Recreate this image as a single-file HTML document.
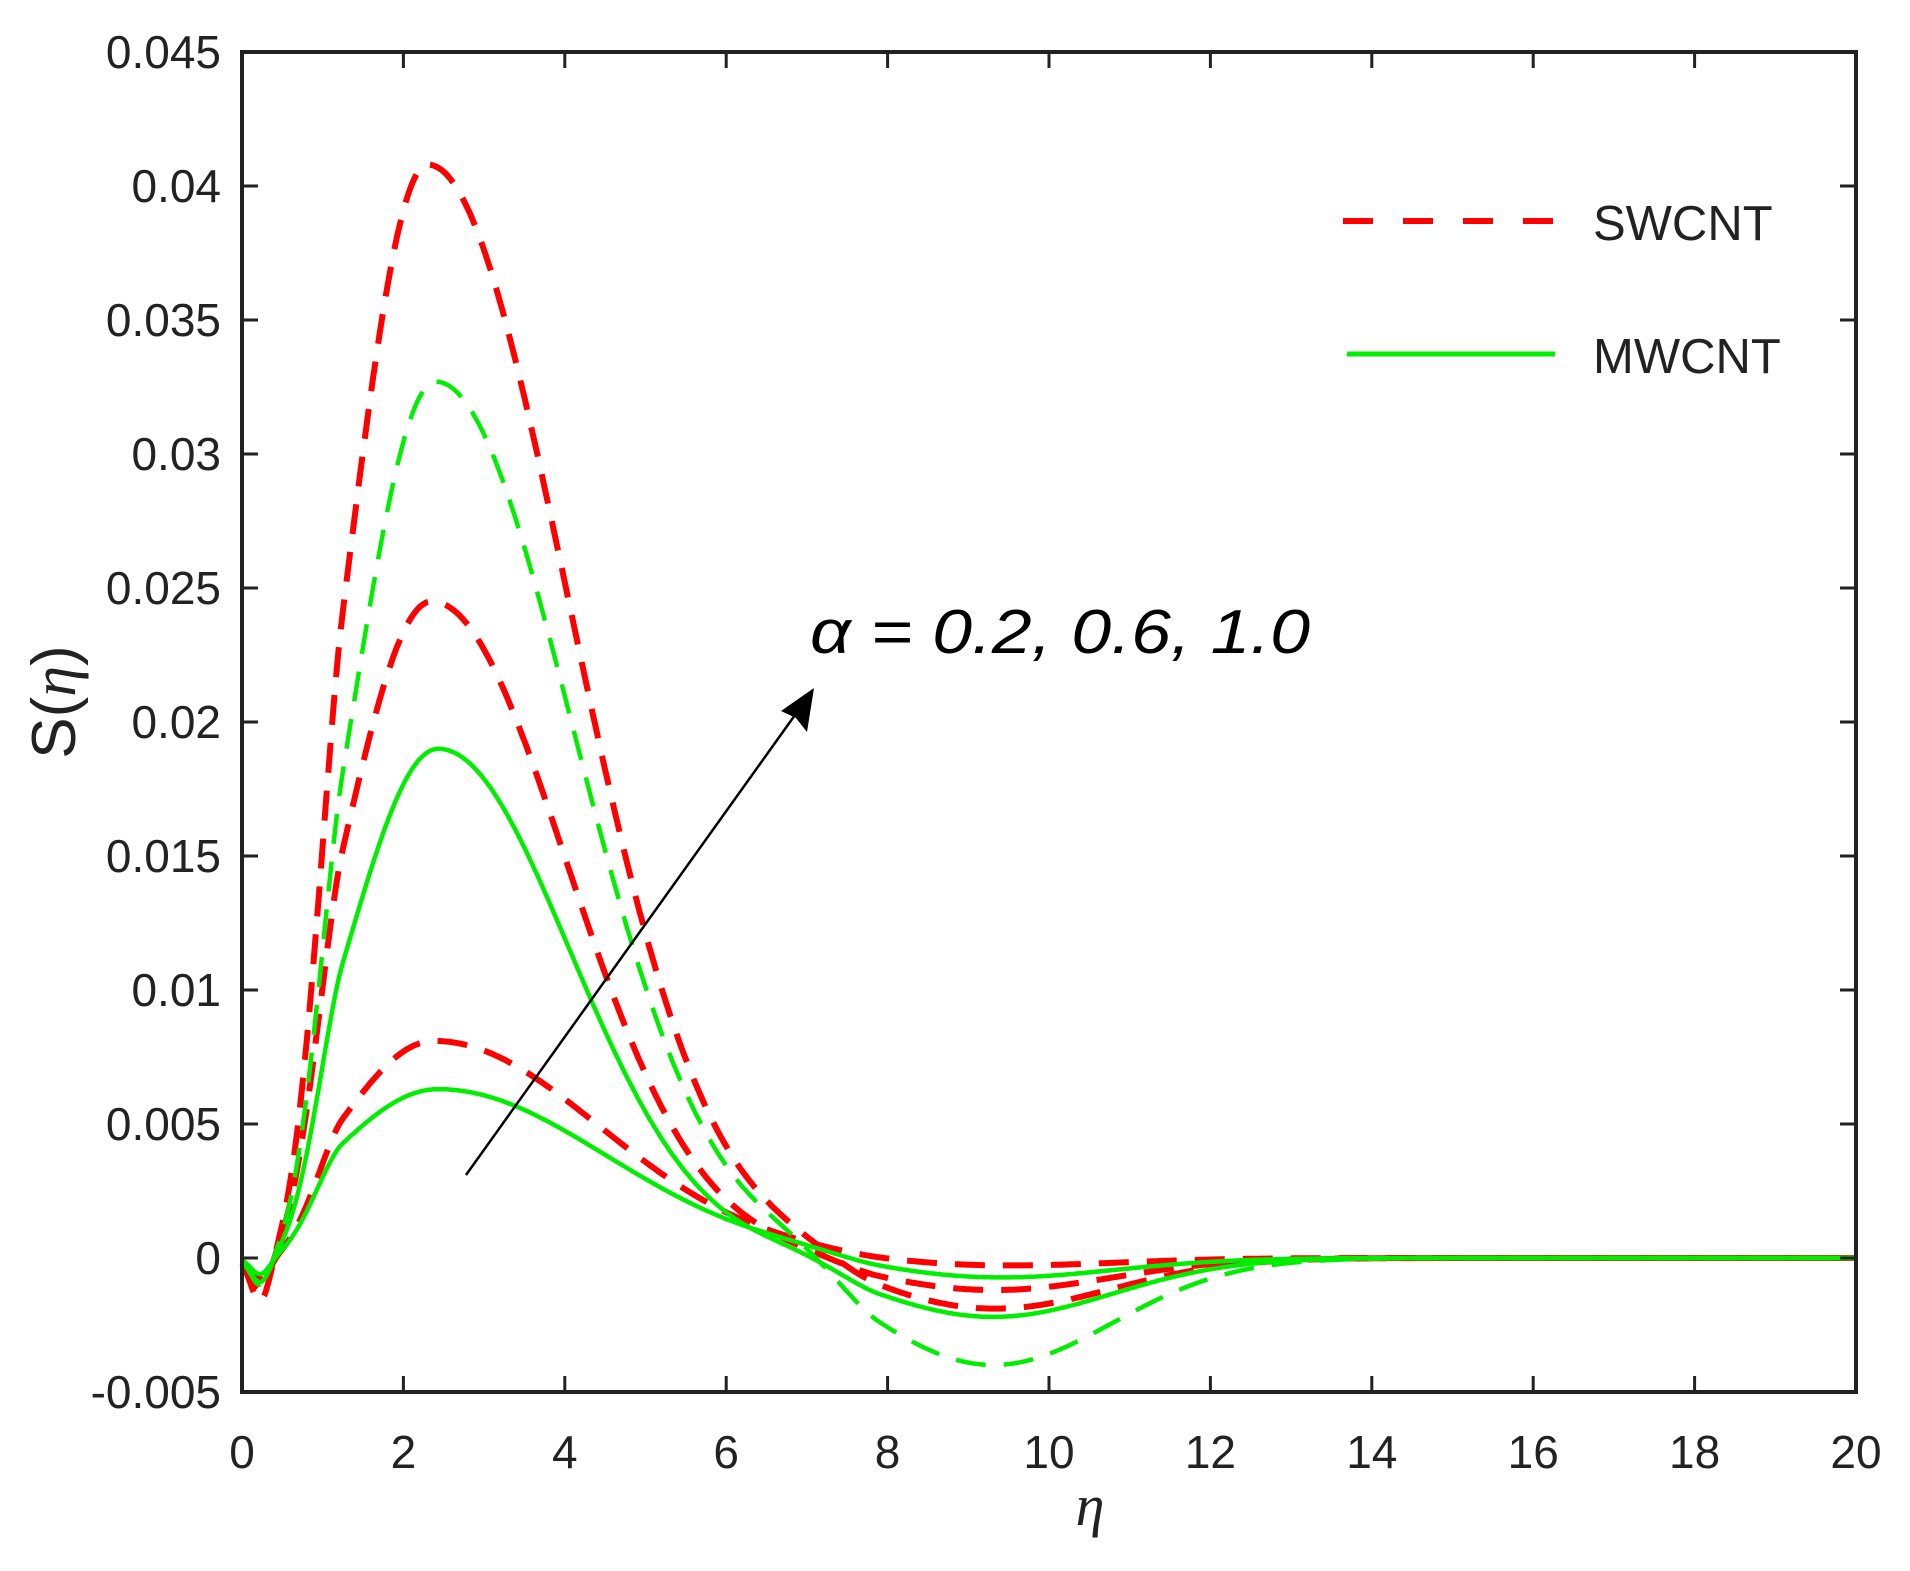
<!DOCTYPE html>
<html><head><meta charset="utf-8"><style>
html,body{margin:0;padding:0;background:#fff;}
svg{display:block;}
text{font-family:"Liberation Sans",sans-serif;fill:#222;}
</style></head><body>
<svg id="s" width="1910" height="1571" viewBox="0 0 1910 1571" xmlns="http://www.w3.org/2000/svg">
<rect width="1910" height="1571" fill="#fff"/>
<g id="curves" fill="none" stroke-linejoin="round"></g>
<g id="axes"></g>
<line x1="1343" y1="221" x2="1555" y2="221" stroke="#ff0000" stroke-width="6" stroke-dasharray="30,30"/>
<text x="1593" y="240" font-size="49">SWCNT</text>
<line x1="1347" y1="354" x2="1555" y2="354" stroke="#00ee00" stroke-width="5"/>
<text x="1593" y="373" font-size="49">MWCNT</text>
<text x="810" y="653" font-size="62" font-style="italic" textLength="500" lengthAdjust="spacingAndGlyphs" style="fill:#000">α = 0.2, 0.6, 1.0</text>
<line x1="466" y1="1175" x2="800" y2="708" stroke="#000" stroke-width="2.5"/>
<polygon points="814,688 807,732 796,718 781,711" fill="#000"/>
<text transform="translate(75,702) rotate(-90)" font-size="62" text-anchor="middle">S(<tspan font-family="Liberation Serif" font-style="italic">η</tspan>)</text>
<text x="1090" y="1525" font-size="58" font-style="italic" text-anchor="middle" style="font-family:'Liberation Serif',serif">η</text>
</svg>
<script>
const L=242,R=1856,T=52,B=1392;
const X=x=>L+(R-L)*x/20, Y=y=>B-(y+0.005)/0.05*(B-T);
const ns="http://www.w3.org/2000/svg";
function el(tag,attrs,parent){const e=document.createElementNS(ns,tag);for(const k in attrs)e.setAttribute(k,attrs[k]);parent.appendChild(e);return e;}
const ax=document.getElementById('axes'), cv=document.getElementById('curves');
function sm(t){t=Math.max(0,Math.min(1,t));return t*t*(3-2*t);}
function f(x,s){
  const xp=s.xp;
  let v;
  if(x<xp){const z=(xp-x)/s.wl; v=s.A*Math.exp(-z*z);}
  else {const z=(x-xp)/s.wr; v=s.A*Math.exp(-z*z);}
  v*=sm((x-0.25)/1.0);
  v-=s.B*Math.exp(-Math.pow((x-9.3)/2.1,2))*sm((x-6.3)/1.6);
  v-=s.dip*Math.exp(-Math.pow((x-0.22)/0.16,2));
  return v;
}
const series=[
 {A:0.0408,xp:2.3,wl:1.45,wr:2.45,B:0.0019,dip:0.0016,c:'#ff0000',d:'30,18',w:6},
 {A:0.0245,xp:2.35,wl:1.6,wr:2.35,B:0.0012,dip:0.0012,c:'#ff0000',d:'30,18',w:6},
 {A:0.0081,xp:2.38,wl:1.7,wr:2.9,B:0.0003,dip:0.0008,c:'#ff0000',d:'30,18',w:6},
 {A:0.0327,xp:2.4,wl:1.5,wr:2.4,B:0.0040,dip:0.0010,c:'#00ee00',d:'30,18',w:4.5},
 {A:0.0190,xp:2.43,wl:1.6,wr:2.3,B:0.0022,dip:0.0009,c:'#00ee00',d:'',w:4.5},
 {A:0.0063,xp:2.43,wl:1.9,wr:2.95,B:0.00075,dip:0.0006,c:'#00ee00',d:'',w:4.5}
];
for(const s of series){
  let p='';
  for(let i=0;i<=800;i++){const x=i*20/800;p+=(i?'L':'M')+X(x).toFixed(1)+','+Y(f(x,s)).toFixed(1);}
  const a={d:p,stroke:s.c,'stroke-width':s.w};
  if(s.d)a['stroke-dasharray']=s.d;
  el('path',a,cv);
}
el('rect',{x:L,y:T,width:R-L,height:B-T,fill:'none',stroke:'#222','stroke-width':4},ax);
for(let i=0;i<=10;i++){
  const x=X(i*2);
  if(i>0&&i<10){el('line',{x1:x,y1:B,x2:x,y2:B-16,stroke:'#222','stroke-width':3},ax);
  el('line',{x1:x,y1:T,x2:x,y2:T+16,stroke:'#222','stroke-width':3},ax);}
  const t=el('text',{x:x,y:1468,'font-size':46,'text-anchor':'middle'},ax);t.textContent=String(i*2);
}
const yl=['-0.005','0','0.005','0.01','0.015','0.02','0.025','0.03','0.035','0.04','0.045'];
for(let i=0;i<=10;i++){
  const y=Y(-0.005+i*0.005);
  if(i>0&&i<10){el('line',{x1:L,y1:y,x2:L+16,y2:y,stroke:'#222','stroke-width':3},ax);
  el('line',{x1:R,y1:y,x2:R-16,y2:y,stroke:'#222','stroke-width':3},ax);}
  const t=el('text',{x:221,y:y+16,'font-size':46,'text-anchor':'end'},ax);t.textContent=yl[i];
}
</script>
</body></html>
